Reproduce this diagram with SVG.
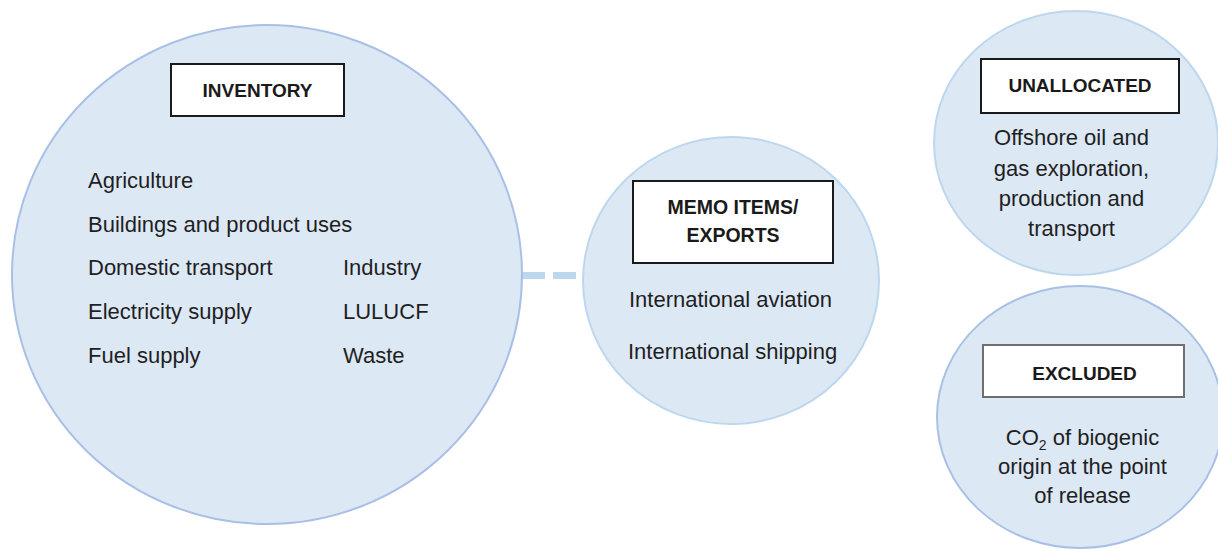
<svg xmlns="http://www.w3.org/2000/svg" width="1218" height="549" viewBox="0 0 1218 549">
  <style>
    .bubble { fill: #dde8f5; stroke-width: 2; }
    .edge-dark { stroke: #a9c0e6; }
    .edge-light { stroke: #bdd7ee; }
    .label-box { fill: #ffffff; stroke: #1a1a1a; stroke-width: 2; }
    .label-box.grey { stroke: #6f6f6f; }
    .title { font-family: "Liberation Sans", Arial, sans-serif; font-weight: bold; font-size: 19px; fill: #1a1a1a; text-anchor: middle; }
    .title.memo { font-size: 19.5px; }
    .item { font-family: "Liberation Sans", Arial, sans-serif; font-size: 22px; fill: #1f1f1f; }
    .mid { text-anchor: middle; }
    .link { stroke: #bdd7ee; stroke-width: 7; fill: none; }
  </style>
  <rect width="1218" height="549" fill="#ffffff"/>

  <!-- dashed link between the inventory and memo bubbles -->
  <g id="connectors">
    <line class="link" x1="522" y1="275.5" x2="545" y2="275.5"/>
    <line class="link" x1="553" y1="275.5" x2="576" y2="275.5"/>
  </g>

  <g id="inventory">
    <ellipse class="bubble edge-dark" cx="267" cy="274.5" rx="255" ry="249.5"/>
    <rect class="label-box" x="171" y="64" width="173" height="52"/>
    <text class="title" x="257.5" y="97">INVENTORY</text>
    <text class="item" x="88" y="188">Agriculture</text>
    <text class="item" x="88" y="232">Buildings and product uses</text>
    <text class="item" x="88" y="275">Domestic transport</text>
    <text class="item" x="88" y="319">Electricity supply</text>
    <text class="item" x="88" y="363">Fuel supply</text>
    <text class="item" x="343" y="275">Industry</text>
    <text class="item" x="343" y="319">LULUCF</text>
    <text class="item" x="343" y="363">Waste</text>
  </g>

  <g id="memo-items">
    <ellipse class="bubble edge-light" cx="731" cy="280.5" rx="148" ry="143.5"/>
    <rect class="label-box" x="633" y="181" width="200" height="82"/>
    <text class="title memo" x="733" y="214">MEMO ITEMS/</text>
    <text class="title memo" x="733" y="242">EXPORTS</text>
    <text class="item" x="629" y="307">International aviation</text>
    <text class="item" x="628" y="359">International shipping</text>
  </g>

  <g id="unallocated">
    <ellipse class="bubble edge-light" cx="1076" cy="143" rx="142" ry="132"/>
    <rect class="label-box" x="981" y="59" width="198" height="54"/>
    <text class="title" x="1080" y="92">UNALLOCATED</text>
    <text class="item mid" x="1071.5" y="145">Offshore oil and</text>
    <text class="item mid" x="1071.5" y="176">gas exploration,</text>
    <text class="item mid" x="1071.5" y="206">production and</text>
    <text class="item mid" x="1071.5" y="236">transport</text>
  </g>

  <g id="excluded">
    <ellipse class="bubble edge-dark" cx="1080" cy="417" rx="143" ry="131"/>
    <rect class="label-box grey" x="983" y="345" width="201" height="52"/>
    <text class="title" x="1084.5" y="380">EXCLUDED</text>
    <text class="item mid" x="1082.5" y="445">CO<tspan font-size="14" dy="5">2</tspan><tspan dy="-5"> of biogenic</tspan></text>
    <text class="item mid" x="1082.5" y="474">origin at the point</text>
    <text class="item mid" x="1082.5" y="503">of release</text>
  </g>
</svg>
